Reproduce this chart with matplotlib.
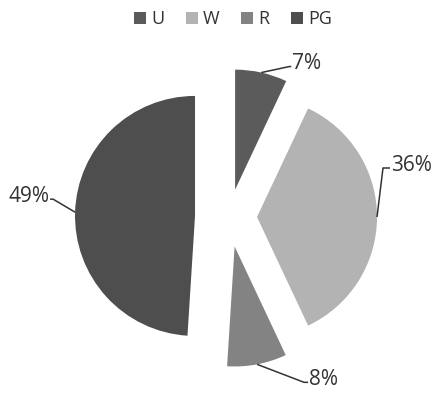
import matplotlib as mpl
mpl.use('Agg')
import matplotlib.pyplot as plt
import numpy as np

labels = ['U', 'W', 'R', 'PG']
shares = [7, 36, 8, 49]
colors = ['#5b5b5b', '#b3b3b3', '#838383', '#4e4e4e']

plt.rcParams['font.family'] = ['Open Sans', 'DejaVu Sans']

# axes in pixel units so offsets read as pixels
fig = plt.figure(figsize=(4.36, 3.94), dpi=100)
ax = fig.add_axes([0, 0, 1, 1])

radius = 120
center = (229, 177)
explode = [28, 28, 30, 34]

wedges, _ = ax.pie(shares, colors=colors, startangle=90, counterclock=False,
                   radius=radius, center=center, explode=explode,
                   wedgeprops=dict(linewidth=0), frame=True)
ax.set_xlim(0, 436)
ax.set_ylim(0, 394)
ax.set_aspect('equal')
ax.axis('off')

# leader line: anchor -> elbow -> short tail, then the label
leaders = {
    'U':  ((28, 6),   (2, 0),  'left'),
    'W':  ((6, 49),   (7, 0),  'left'),
    'R':  ((47, -18), (4, 0),  'left'),
    'PG': ((-22, 13), (-3, 0), 'right'),
}
for w, lab, v in zip(wedges, labels, shares):
    tm = np.deg2rad((w.theta1 + w.theta2) / 2)
    ax_, ay_ = w.center[0] + radius * np.cos(tm), w.center[1] + radius * np.sin(tm)
    (ex, ey), (tx, ty), ha = leaders[lab]
    px = [ax_, ax_ + ex, ax_ + ex + tx]
    py = [ay_, ay_ + ey, ay_ + ey + ty]
    ax.plot(px, py, color='#333333', lw=1.1, solid_capstyle='butt')
    dx = 1 if ha == 'left' else -1
    ax.text(px[-1] + dx, py[-1] + 3, f'{v}%', ha=ha, va='center',
            fontsize=15, color='#333333')

ax.legend(wedges, labels, loc='upper center', bbox_to_anchor=(0.535, 1.015),
          ncol=4, frameon=False, fontsize=13, handlelength=0.65,
          handleheight=0.65, handletextpad=0.3, columnspacing=1.2,
          labelcolor='#333333')

fig.savefig('out.png', dpi=100)
